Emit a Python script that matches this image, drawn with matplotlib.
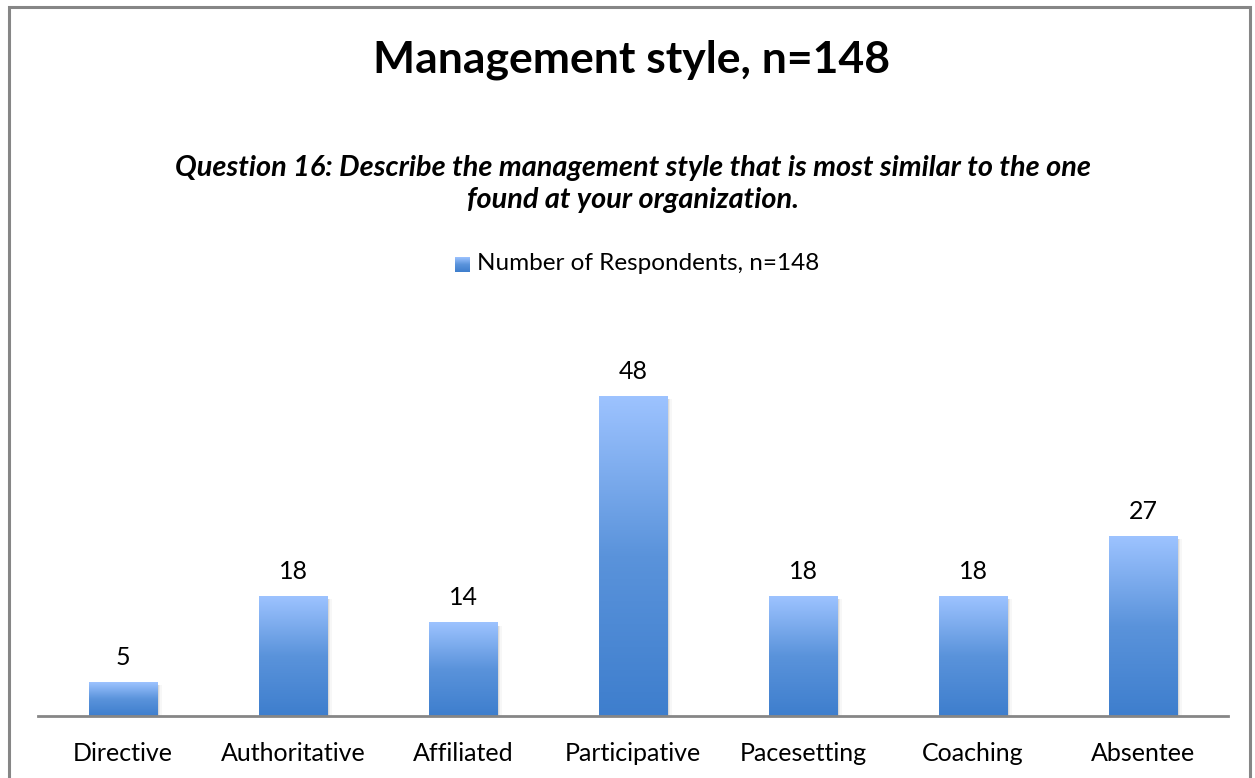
import matplotlib
matplotlib.use("Agg")
import matplotlib.pyplot as plt
import numpy as np
from matplotlib.patches import Rectangle
from matplotlib.colors import LinearSegmentedColormap

categories = ["Directive", "Authoritative", "Affiliated", "Participative", "Pacesetting", "Coaching", "Absentee"]
values = [5, 18, 14, 48, 18, 18, 27]
series_name = "Number of Respondents, n=148"
title = "Management style, n=148"
subtitle = "Question 16: Describe the management style that is most similar to the one\nfound at your organization."

plt.rcParams['font.family'] = ['Lato', 'DejaVu Sans']
W, H = 1255, 778
fig = plt.figure(figsize=(W/100, H/100), dpi=100)

# outer border
fig.patches.append(Rectangle((8.5/W, -0.1), (1250-8.5)/W, (H-7.5)/H + 0.1, transform=fig.transFigure,
                             fill=False, edgecolor='#868686', linewidth=2.2))

ax = fig.add_axes([38/W, (H-716)/H, (1228-38)/W, (716-317)/H])
ax.set_xlim(-0.5, len(categories)-0.5)
ax.set_ylim(0, 60)
for s in ['top', 'right', 'left']:
    ax.spines[s].set_visible(False)
ax.spines['bottom'].set_color('#868686')
ax.spines['bottom'].set_linewidth(2)
ax.set_yticks([])
ax.tick_params(axis='x', length=0, pad=19, labelsize=18)
ax.set_xticks(range(len(categories)))
ax.set_xticklabels(categories)

cmap = LinearSegmentedColormap.from_list('g', ['#3E7ECD', '#5A93DB', '#9DC3FF'])
grad = np.linspace(0, 1, 256).reshape(-1, 1)
width = 0.405
x = np.arange(len(categories))
# shadows
for xi, v in zip(x, values):
    for k, a in enumerate([0.08, 0.05, 0.03]):
        d = 0.010 + k*0.008
        ax.add_patch(Rectangle((xi - width/2 + d, -0.1), width, v - 0.3, facecolor='black', alpha=a,
                               edgecolor='none', zorder=1))
bars = ax.bar(x, values, width=width, color='none', edgecolor='none', zorder=3)
for b, v in zip(bars, values):
    x0 = b.get_x()
    im = ax.imshow(grad, extent=[x0, x0 + b.get_width(), 0, b.get_height()], origin='lower',
                   aspect='auto', cmap=cmap, zorder=2)
    ax.text(b.get_x() + b.get_width()/2, v + 2.05, str(v), ha='center', va='bottom', fontsize=18)
ax.set_xlim(-0.5, len(categories)-0.5)
ax.set_ylim(0, 60)

fig.text(632/W, 1 - 60/H, title, ha='center', va='center', fontsize=32, fontweight='bold')
fig.text(633/W, 1 - 184/H, subtitle, ha='center', va='center', fontsize=20.8, fontweight='bold',
         style='italic', linespacing=1.25)

# legend
lax = fig.add_axes([455/W, 1 - 272/H, 15/W, 15/H])
lax.imshow(grad, extent=[0, 1, 0, 1], origin='lower', aspect='auto', cmap=cmap)
lax.set_axis_off()
fig.text(477/W, 1 - 264/H, series_name, ha='left', va='center', fontsize=17.5)

fig.savefig("out.png", dpi=100)
